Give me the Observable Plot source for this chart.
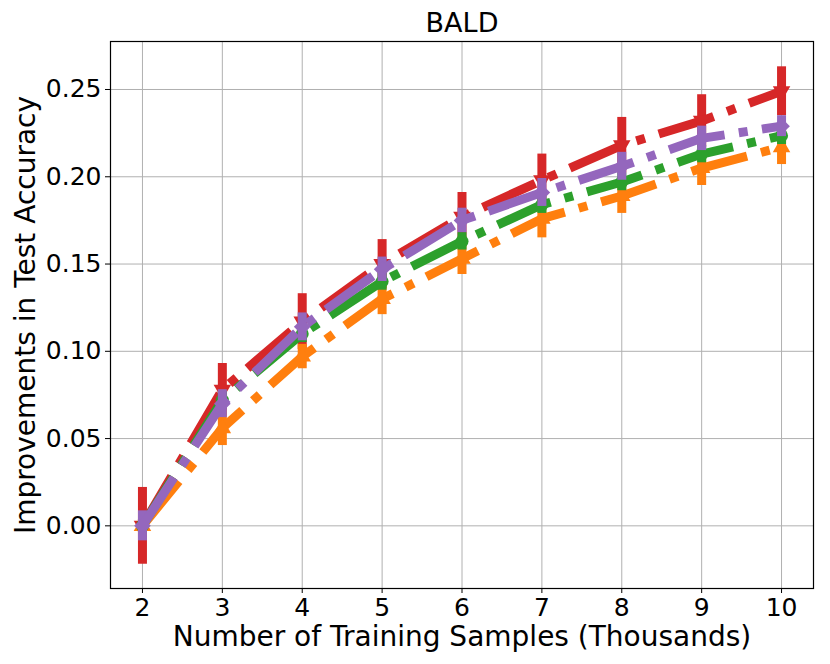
<!DOCTYPE html>
<html><head><meta charset="utf-8">
<script src="https://cdn.jsdelivr.net/npm/d3@7"></script>
<script src="https://cdn.jsdelivr.net/npm/@observablehq/plot@0.6"></script>
<style>body{margin:0;background:#fff}</style>
</head><body><div id="chart"></div>
<script>
// ---- data ----
const samples = [2, 3, 4, 5, 6, 7, 8, 9, 10];
const redMean    = [0, 0.078, 0.117, 0.150, 0.177, 0.198, 0.218, 0.232, 0.249];
const redErr     = [0.022, 0.015, 0.016, 0.014, 0.014, 0.015, 0.016, 0.015, 0.014];
const orangeMean = [0, 0.056, 0.097, 0.130, 0.153, 0.176, 0.189, 0.205, 0.217];
const orangeErr  = [0.004, 0.010, 0.007, 0.009, 0.009, 0.011, 0.010, 0.010, 0.010];
const greenMean  = [0, 0.072, 0.110, 0.140, 0.163, 0.184, 0.197, 0.213, 0.2235];
const greenErr   = [0.004, 0.005, 0.005, 0.005, 0.005, 0.005, 0.005, 0.005, 0.005];
const purpleMean = [0, 0.070, 0.114, 0.147, 0.175, 0.191, 0.206, 0.222, 0.229];
const purpleErr  = [0.0086, 0.008, 0.008, 0.007, 0.007, 0.008, 0.008, 0.007, 0.006];
const xTicks = [2, 3, 4, 5, 6, 7, 8, 9, 10];
const yTicks = [0, 0.05, 0.10, 0.15, 0.20, 0.25];
const titleText = "BALD";
const xLabel = "Number of Training Samples (Thousands)";
const yLabel = "Improvements in Test Accuracy";

// ---- symbols ----
const sqrt3 = Math.sqrt(3);
const triangleDown = {
  draw(context, size) {
    const y = -Math.sqrt(size / (sqrt3 * 3));
    context.moveTo(0, -y * 2);
    context.lineTo(-sqrt3 * y, y);
    context.lineTo(sqrt3 * y, y);
    context.closePath();
  }
};

const series = [
  {mean: redMean, err: redErr, color: "#d62728", symbol: triangleDown, r: 6.5},
  {mean: orangeMean, err: orangeErr, color: "#ff7f0e", symbol: "triangle", r: 6.5},
  {mean: greenMean, err: greenErr, color: "#2ca02c", symbol: "circle", r: 6.5},
  {mean: purpleMean, err: purpleErr, color: "#9467bd", symbol: "diamond2", r: 7.5}
];

const marks = [
  Plot.gridX({ticks: xTicks, stroke: "#b0b0b0", strokeOpacity: 1, strokeWidth: 1}),
  Plot.gridY({ticks: yTicks, stroke: "#b0b0b0", strokeOpacity: 1, strokeWidth: 1})
];
for (const s of series) {
  const rows = samples.map((x, i) => ({x, y: s.mean[i], lo: s.mean[i] - s.err[i], hi: s.mean[i] + s.err[i]}));
  marks.push(Plot.ruleX(rows, {x: "x", y1: "lo", y2: "hi", stroke: s.color, strokeWidth: 9}));
  marks.push(Plot.line(rows, {x: "x", y: "y", stroke: s.color, strokeWidth: 9,
    strokeDasharray: "57.6,14.4,9,14.4", strokeLinecap: "butt", strokeLinejoin: "round"}));
  marks.push(Plot.dot(rows, {x: "x", y: "y", fill: s.color, stroke: "none", symbol: s.symbol, r: s.r}));
}
marks.push(Plot.frame({stroke: "#000", strokeWidth: 1.2}));
marks.push(Plot.axisX({ticks: xTicks, tickSize: 5, tickPadding: 5, fontSize: 25, label: null}));
marks.push(Plot.axisY({ticks: yTicks, tickFormat: d3.format(".2f"), tickSize: 5, tickPadding: 4, fontSize: 25, label: null}));
marks.push(Plot.text([titleText], {text: d => d, frameAnchor: "top", textAnchor: "middle", lineAnchor: "middle", dy: -18, fontSize: 27}));
marks.push(Plot.text([xLabel], {text: d => d, frameAnchor: "bottom", textAnchor: "middle", lineAnchor: "middle", dy: 49, fontSize: 28}));
marks.push(Plot.text([yLabel], {text: d => d, frameAnchor: "left", textAnchor: "middle", lineAnchor: "middle", dx: -84, rotate: -90, fontSize: 28}));

const chart = Plot.plot({
  width: 830, height: 664,
  marginLeft: 110, marginRight: 17, marginTop: 41, marginBottom: 76,
  style: {fontFamily: "DejaVu Sans", background: "#fff", color: "#000"},
  x: {domain: [1.6, 10.4]},
  y: {domain: [-0.0359, 0.2775]},
  marks
});
document.getElementById("chart").appendChild(chart);
</script>
</body></html>
